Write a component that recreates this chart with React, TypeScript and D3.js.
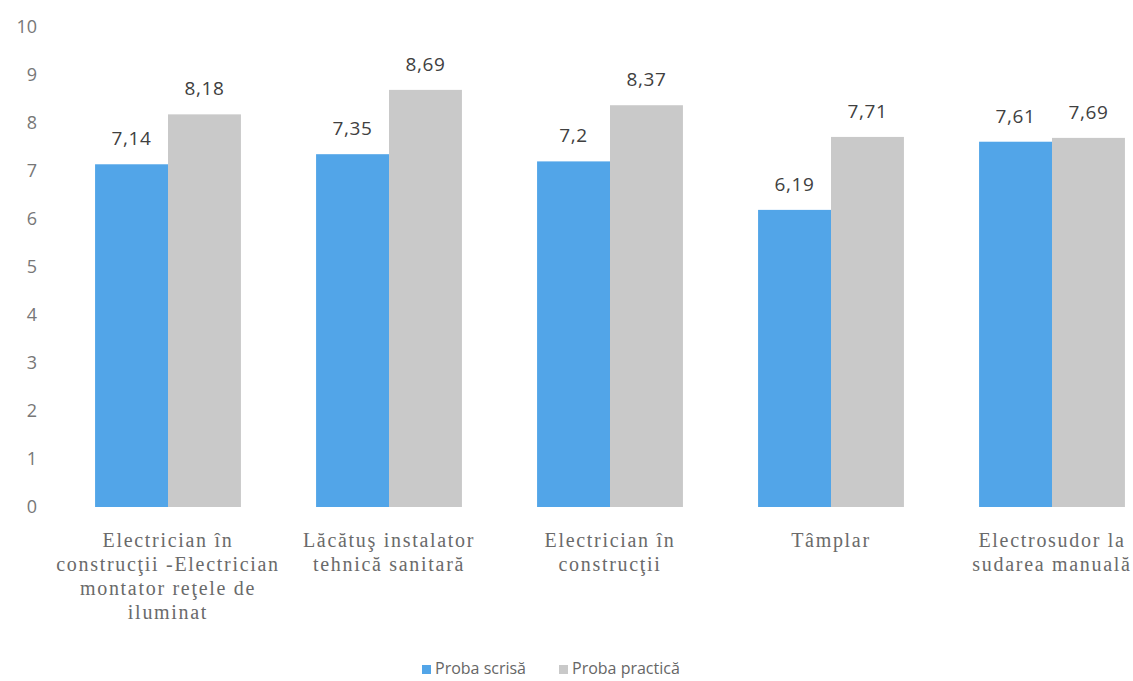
import React from "react";
import * as d3 from "d3";

const categories: string[][] = [
  ["Electrician în", "construcţii -Electrician", "montator reţele de", "iluminat"],
  ["Lăcătuş instalator", "tehnică sanitară"],
  ["Electrician în", "construcţii"],
  ["Tâmplar"],
  ["Electrosudor la", "sudarea manuală"],
];
const categoryKeys = ["c1", "c2", "c3", "c4", "c5"];
const seriesNames = ["Proba scrisă", "Proba practică"];
const probaScrisa = [7.14, 7.35, 7.2, 6.19, 7.61];
const probaPractica = [8.18, 8.69, 8.37, 7.71, 7.69];
const valueLabels = [
  ["7,14", "7,35", "7,2", "6,19", "7,61"],
  ["8,18", "8,69", "8,37", "7,71", "7,69"],
];
const yTicks = [0, 1, 2, 3, 4, 5, 6, 7, 8, 9, 10];

const colors = ["#52a5e8", "#c9c9c9"];

export default function App() {
  const W = 1133;
  const H = 681;
  const y = d3.scaleLinear().domain([0, 10]).range([507, 27]);
  const x0 = d3
    .scaleBand<string>()
    .domain(categoryKeys)
    .range([57.5, 1162.5])
    .paddingInner(0.34)
    .paddingOuter(0.17);
  const x1 = d3.scaleBand<number>().domain([0, 1]).range([0, x0.bandwidth()]);
  const series = [probaScrisa, probaPractica];
  const sans = "'Open Sans', 'Noto Sans', sans-serif";
  const serif = "'Liberation Serif', 'DejaVu Serif', serif";

  return (
    <svg
      width={W}
      height={H}
      style={{ position: "absolute", left: 0, top: 0, background: "#fff" }}
    >
      {yTicks.map((t) => (
        <text
          key={t}
          x={37}
          y={y(t)}
          dy="0.35em"
          textAnchor="end"
          fontFamily={sans}
          fontSize={18}
          fill="#777"
        >
          {t}
        </text>
      ))}
      {categoryKeys.map((k, i) => (
        <g key={k} transform={`translate(${x0(k)},0)`}>
          {series.map((s, j) => (
            <g key={j}>
              <rect
                x={x1(j)}
                y={y(s[i])}
                width={x1.bandwidth()}
                height={y(0) - y(s[i])}
                fill={colors[j]}
              />
              <text
                x={(x1(j) as number) + x1.bandwidth() / 2}
                y={y(s[i]) - 19}
                textAnchor="middle"
                fontFamily={sans}
                fontSize={19}
                letterSpacing={0.6}
                fill="#404040"
              >
                {valueLabels[j][i]}
              </text>
            </g>
          ))}
          {categories[i].map((line, li) => (
            <text
              key={li}
              x={x0.bandwidth() / 2}
              y={547 + li * 24}
              textAnchor="middle"
              fontFamily={serif}
              fontSize={20}
              letterSpacing={1.7}
              fill="#6a6a6a"
            >
              {line}
            </text>
          ))}
        </g>
      ))}
      {seriesNames.map((n, j) => {
        const lx = [422, 559][j];
        return (
          <g key={n}>
            <rect x={lx} y={665} width={9} height={9} fill={colors[j]} />
            <text
              x={lx + 13}
              y={674}
              fontFamily={sans}
              fontSize={16}
              fill="#666"
            >
              {n}
            </text>
          </g>
        );
      })}
    </svg>
  );
}
